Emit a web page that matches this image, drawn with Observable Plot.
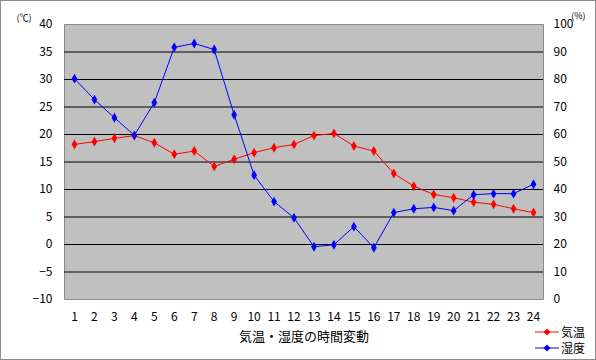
<!DOCTYPE html>
<html><head><meta charset="utf-8">
<script src="https://cdn.jsdelivr.net/npm/d3@7"></script>
<script src="https://cdn.jsdelivr.net/npm/@observablehq/plot@0.6"></script>
<style>
body{margin:0;background:#fff;}
#wrap{position:relative;width:596px;height:360px;font-family:"Noto Sans CJK JP",sans-serif;}
#wrap svg{display:block;}
#border{position:absolute;left:0;top:0;width:594px;height:358px;border:1px solid #8c8c8c;pointer-events:none;}
#legend{position:absolute;left:534px;top:324px;font-size:12px;line-height:16px;color:#000;}
#legend div{display:flex;align-items:center;height:16px;}
</style></head>
<body><div id="wrap"><div id="border"></div></div>
<script>
const hours = d3.range(1, 25);
const temperature = [18.2,18.7,19.3,19.8,18.5,16.4,17.0,14.2,15.5,16.7,17.6,18.2,19.8,20.2,17.9,17.0,12.9,10.6,9.1,8.5,7.7,7.3,6.5,5.8];
const humidity = [80.3,72.7,66.1,59.7,71.6,91.7,93.1,90.9,67.2,45.2,35.6,29.7,19.2,19.9,26.5,18.8,31.6,33.0,33.5,32.3,38.1,38.5,38.5,41.9];
const leftTicks = [-10,-5,0,5,10,15,20,25,30,35,40];
const gridTicks = [-5,0,5,10,15,20,25,30,35];
const seriesNames = ["気温","湿度"];
const seriesColors = ["#ff0000","#0000ff"];

const tData = hours.map((h,i)=>({hour:h, v:temperature[i]}));
// humidity 0..100 % plotted on the temperature scale -10..40
const hData = hours.map((h,i)=>({hour:h, v:humidity[i]/2 - 10}));

const font = `"Noto Sans CJK JP", sans-serif`;
const chart = Plot.plot({
  width: 596, height: 360,
  marginLeft: 64, marginRight: 53, marginTop: 24, marginBottom: 61,
  style: {fontFamily: font, fontSize: "12px", background: "transparent", color: "#000"},
  x: {type: "band", domain: hours, padding: 0, round: false, label: null},
  y: {domain: [-10, 40], label: null},
  marks: [
    Plot.frame({fill: "#c0c0c0", stroke: "#8c8c8c"}),
    Plot.ruleY(gridTicks, {stroke: "#000", strokeWidth: 1}),
    Plot.axisY({anchor: "left", ticks: leftTicks, tickSize: 0, tickPadding: 12, label: null, fontSize: 12}),
    Plot.axisY({anchor: "right", ticks: leftTicks, tickSize: 0, tickPadding: 10, tickFormat: d => (d + 10) * 2, label: null, textAnchor: "start", fontSize: 12}),
    Plot.axisX({tickSize: 0, tickPadding: 13, label: null, fontSize: 12}),
    Plot.line(tData, {x: "hour", y: "v", stroke: seriesColors[0], strokeWidth: 1}),
    Plot.dot(tData, {x: "hour", y: "v", fill: seriesColors[0], symbol: "diamond", r: 3}),
    Plot.line(hData, {x: "hour", y: "v", stroke: seriesColors[1], strokeWidth: 1}),
    Plot.dot(hData, {x: "hour", y: "v", fill: seriesColors[1], symbol: "diamond", r: 3}),
    Plot.text(["気温・湿度の時間変動"], {frameAnchor: "bottom", dy: 41, fontSize: 13}),
    Plot.text(["(℃)"], {frameAnchor: "top-left", dx: -48, dy: -10, fontSize: 9}),
    Plot.text(["(%)"], {frameAnchor: "top-right", dx: 42, dy: -12, fontSize: 9})
  ]
});
const wrap = document.getElementById("wrap");
wrap.insertBefore(chart, wrap.firstChild);

const legend = document.createElement("div");
legend.id = "legend";
seriesNames.forEach((n, i) => {
  const row = document.createElement("div");
  row.innerHTML = `<svg width="26" height="10" style="margin-right:1px"><line x1="1" y1="5" x2="25" y2="5" stroke="${seriesColors[i]}" stroke-width="1"/><path d="M13,1.5L16.5,5L13,8.5L9.5,5Z" fill="${seriesColors[i]}"/></svg><span>${n}</span>`;
  legend.appendChild(row);
});
wrap.appendChild(legend);
</script>
</body></html>
